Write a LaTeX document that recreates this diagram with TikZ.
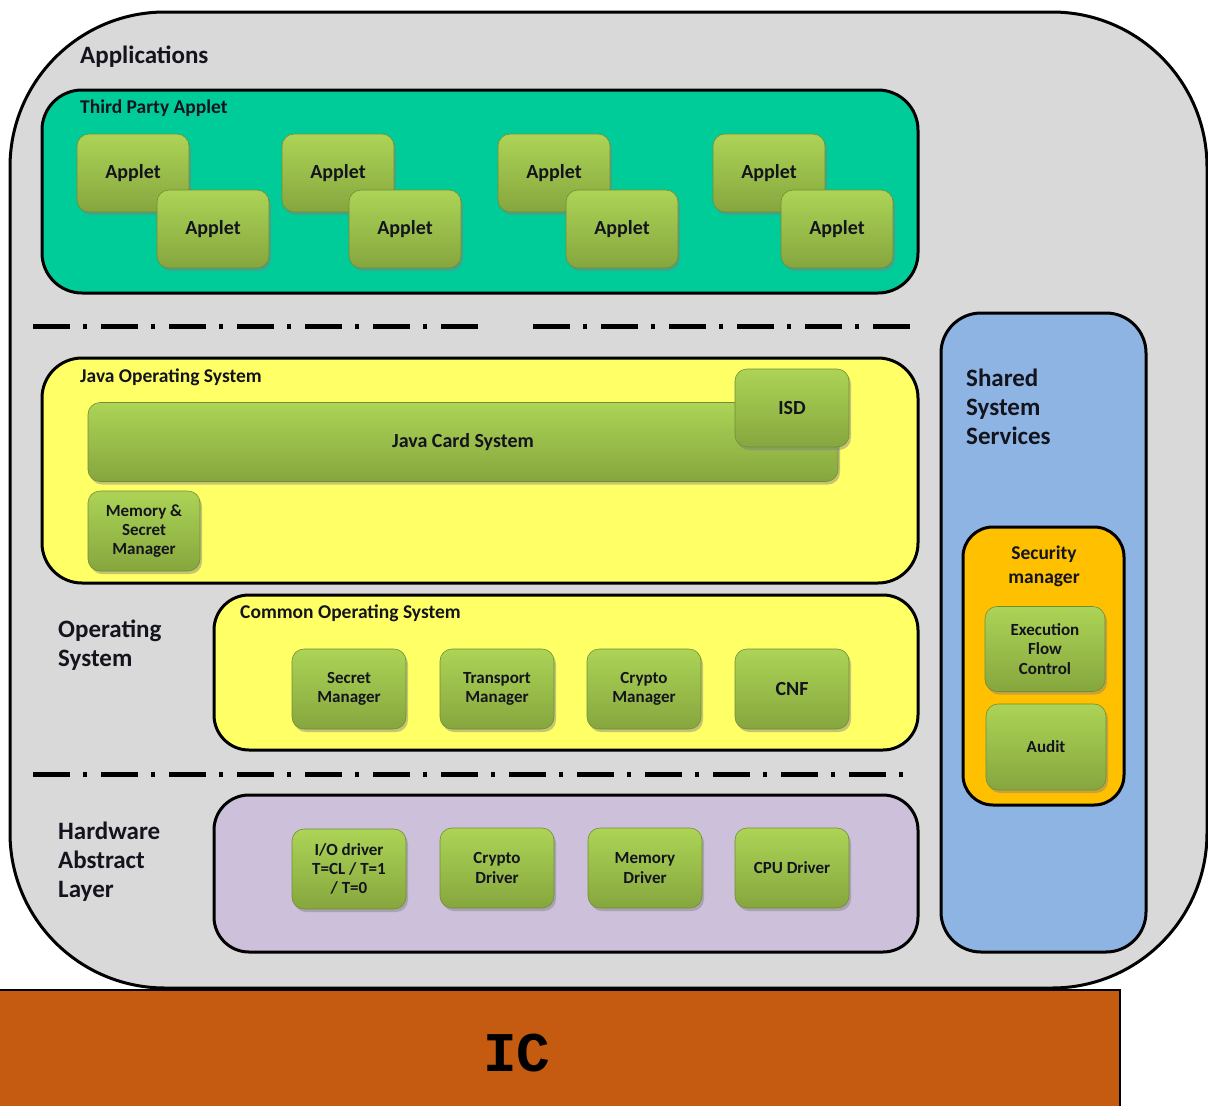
\documentclass[tikz,border=0pt]{standalone}
\usepackage{fontspec}
\setmainfont{Carlito}
\newfontfamily\icfont{Liberation Mono}
\usetikzlibrary{shadows}
\definecolor{outergray}{RGB}{217,217,217}
\definecolor{teal1}{RGB}{0,204,153}
\definecolor{yel}{RGB}{255,255,102}
\definecolor{lav}{RGB}{204,192,218}
\definecolor{blu}{RGB}{141,180,226}
\definecolor{ora}{RGB}{255,192,0}
\definecolor{icorange}{RGB}{197,90,17}
\definecolor{gtop}{RGB}{172,212,86}
\definecolor{gbot}{RGB}{134,166,62}
\definecolor{txt}{RGB}{20,20,30}
\tikzset{
  panel/.style={draw=black, line width=3pt, rounded corners=#1},
  gbox/.style={rounded corners=12pt, top color=gtop, bottom color=gbot,
    draw=gbot!85!black, line width=0.6pt,
    drop shadow={shadow xshift=2pt, shadow yshift=-3pt, opacity=0.45},
    text=txt, align=center, inner sep=0pt},
  big/.style={font=\fontsize{25}{28.7}\selectfont\bfseries, text=txt, align=left, anchor=north west, inner sep=0pt},
  ptitle/.style={font=\fontsize{19.5}{22}\selectfont\bfseries, text=txt, anchor=north west, inner sep=0pt},
  sm/.style={font=\fontsize{17}{19.3}\selectfont\bfseries},
  md/.style={font=\fontsize{20}{22}\selectfont\bfseries},
  sep/.style={line width=5pt, dash pattern=on 37pt off 13pt on 4pt off 14pt, black}
}
\begin{document}
\begin{tikzpicture}[x=1pt,y=-1pt]
\useasboundingbox (0,0) rectangle (1208,1106);
% outer container
\draw[fill=outergray, line width=3pt, rounded corners=155pt] (10,12) rectangle (1207,988);
% IC
\draw[fill=icorange, line width=2pt] (-2,990) rectangle (1120,1110);
\node[font=\icfont\fontsize{56}{60}\selectfont\bfseries] (ic) at (517,1053) {IC};
\node[big] (apps) at (80,46) {Applications};
% third party
\draw[panel=40pt, fill=teal1] (42,90) rectangle (918,293);
\node[ptitle] (tpa) at (80,100) {Third Party Applet};
\foreach \bx/\fx [count=\i] in {133/213, 338/405, 554/622, 769/837}{
  \node[gbox, md, minimum width=112pt, minimum height=78pt] (ab\i) at (\bx,173) {Applet};
  \node[gbox, md, minimum width=112pt, minimum height=78pt] (af\i) at (\fx,229) {Applet};
}
% separators
\draw[sep] (33,326) -- (478,326);
\draw[sep] (533,326) -- (910,326);
\draw[sep] (33,774) -- (910,774);
% java OS
\draw[panel=40pt, fill=yel] (42,358) rectangle (918,583);
\node[ptitle] (jos) at (80,369) {Java Operating System};
\node[gbox, md, minimum width=750pt, minimum height=79pt] (jcs) at (463,442) {Java Card System};
\node[gbox, md, minimum width=114pt, minimum height=78pt] (isd) at (792,408) {ISD};
\node[gbox, sm, minimum width=112pt, minimum height=80pt] (mem) at (144,531) {Memory \&\\Secret\\Manager};
% common OS
\draw[panel=35pt, fill=yel] (214,595) rectangle (918,750);
\node[ptitle] (cos) at (240,605) {Common Operating System};
\node[gbox, sm, minimum width=114pt, minimum height=80pt] (sec) at (349,689) {Secret\\Manager};
\node[gbox, sm, minimum width=114pt, minimum height=80pt] (tra) at (497,689) {Transport\\Manager};
\node[gbox, sm, minimum width=114pt, minimum height=80pt] (cry) at (644,689) {Crypto\\Manager};
\node[gbox, md, minimum width=114pt, minimum height=80pt] (cnf) at (792,689) {CNF};
% HAL
\draw[panel=35pt, fill=lav] (214,795) rectangle (918,952);
\node[gbox, sm, minimum width=114pt, minimum height=80pt] (io) at (349,869) {I/O driver\\T=CL / T=1\\/ T=0};
\node[gbox, sm, minimum width=114pt, minimum height=80pt] (cdr) at (497,868) {Crypto\\Driver};
\node[gbox, sm, minimum width=114pt, minimum height=80pt] (mdr) at (645,868) {Memory\\Driver};
\node[gbox, sm, minimum width=114pt, minimum height=80pt] (cpu) at (792,868) {CPU Driver};
% side labels
\node[big] (osl) at (58,620) {Operating\\System};
\node[big] (hal) at (58,822) {Hardware\\Abstract\\Layer};
% shared services
\draw[panel=40pt, fill=blu] (941,313) rectangle (1146,952);
\node[big] (sss) at (966,369) {Shared\\System\\Services};
\draw[panel=30pt, fill=ora] (963,527) rectangle (1124,805);
\node[font=\fontsize{19.5}{24}\selectfont\bfseries, text=txt, align=center] (secm) at (1044,566) {Security\\manager};
\node[gbox, sm, minimum width=120pt, minimum height=85pt] (efc) at (1045,649) {Execution\\Flow\\Control};
\node[gbox, sm, minimum width=120pt, minimum height=86pt] (aud) at (1046,747) {Audit};
\end{tikzpicture}
\end{document}
